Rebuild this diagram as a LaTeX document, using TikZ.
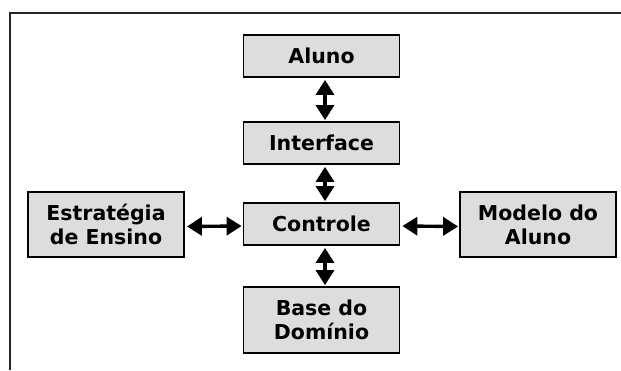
\documentclass[tikz,border=0pt]{standalone}
\usepackage{fontspec}
\setmainfont{DejaVu Sans}
\usetikzlibrary{arrows.meta}
\definecolor{boxgray}{HTML}{DDDDDD}
\begin{document}
\begin{tikzpicture}[x=1pt,y=-1pt,
  box/.style={draw=black,line width=1.8pt,fill=boxgray,minimum width=156pt,inner sep=0pt,
    font=\bfseries\fontsize{20.5}{24}\selectfont,align=center},
  link/.style={line width=3.4pt,{Triangle[width=18pt,length=15pt]}-{Triangle[width=18pt,length=15pt]},
    shorten <=2pt,shorten >=1pt}]
\useasboundingbox (0,0) rectangle (621,370);
\draw[line width=2pt,black!85] (9.5,370) -- (9.5,13) -- (621,13);
\node[box,minimum height=42pt] (aluno) at (321.5,56) {Aluno};
\node[box,minimum height=42pt] (interface) at (321.5,143) {Interface};
\node[box,minimum height=42pt] (controle) at (321.5,224) {Controle};
\node[box,minimum height=66pt] (base) at (321.5,320) {Base do\\Domínio};
\node[box,minimum height=65pt] (estrategia) at (106,224.5) {Estratégia\\de Ensino};
\node[box,minimum height=65pt] (modelo) at (538,224.5) {Modelo do\\Aluno};
\draw[link] ([xshift=3.5pt]aluno.south) -- ([xshift=3.5pt]interface.north);
\draw[link] ([xshift=3.5pt]interface.south) -- ([xshift=3.5pt]controle.north);
\draw[link] ([xshift=3.5pt]controle.south) -- ([xshift=3.5pt]base.north);
\draw[link] ([yshift=-2pt]estrategia.east) -- ([yshift=-2pt]controle.west);
\draw[link] ([yshift=-2pt]controle.east) -- ([yshift=-2pt]modelo.west);
\end{tikzpicture}
\end{document}
